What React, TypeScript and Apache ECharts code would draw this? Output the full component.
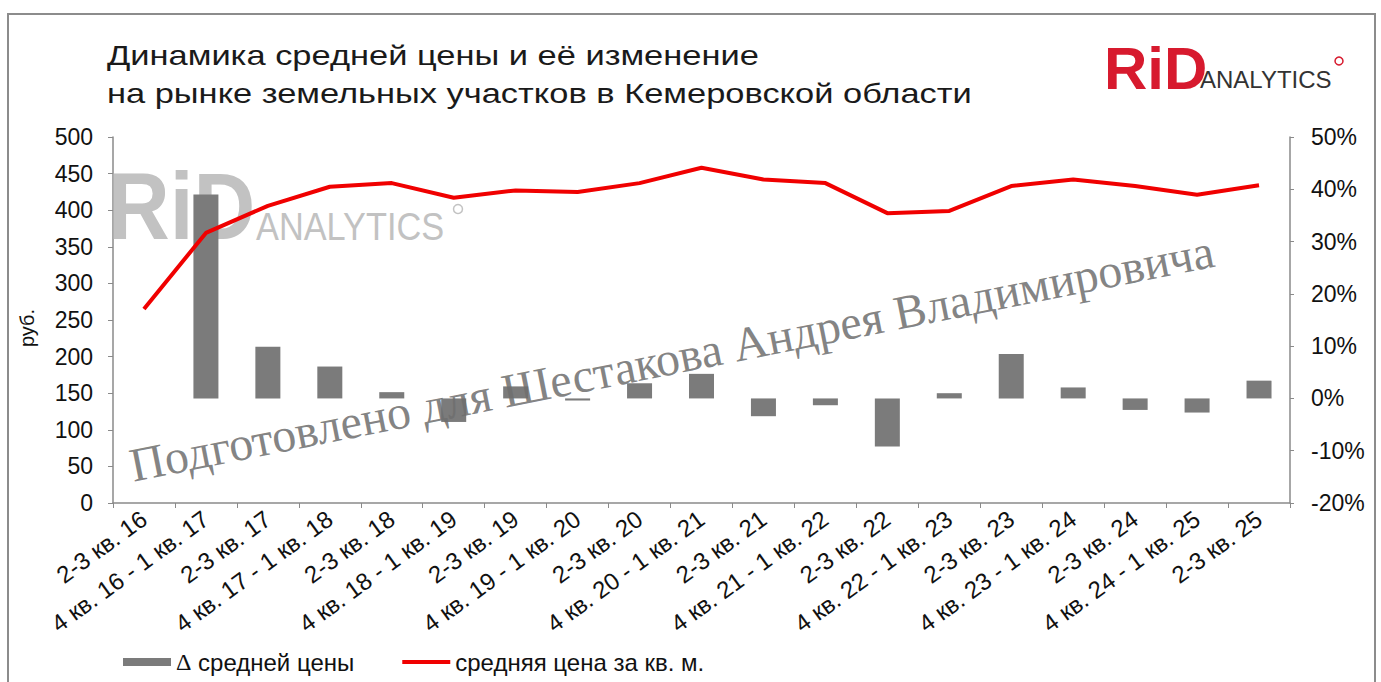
import React, { useEffect, useRef } from "react";
import * as echarts from "echarts";

const categories = [
  "2-3 кв. 16", "4 кв. 16 - 1 кв. 17", "2-3 кв. 17", "4 кв. 17 - 1 кв. 18", "2-3 кв. 18",
  "4 кв. 18 - 1 кв. 19", "2-3 кв. 19", "4 кв. 19 - 1 кв. 20", "2-3 кв. 20", "4 кв. 20 - 1 кв. 21",
  "2-3 кв. 21", "4 кв. 21 - 1 кв. 22", "2-3 кв. 22", "4 кв. 22 - 1 кв. 23", "2-3 кв. 23",
  "4 кв. 23 - 1 кв. 24", "2-3 кв. 24", "4 кв. 24 - 1 кв. 25", "2-3 кв. 25",
];
const avgPrice = [265, 369, 406, 432, 437, 417, 427, 425, 437, 458, 442, 437, 396, 399, 433, 442, 433, 421, 434];
const priceChange = [null, 39, 9.9, 6.1, 1.2, -4.5, 2.3, -0.4, 2.9, 4.7, -3.4, -1.3, -9.2, 1.0, 8.5, 2.1, -2.2, -2.7, 3.4];
const leftTicks = { min: 0, max: 500, interval: 50 };
const rightTicks = { min: -20, max: 50, interval: 10 };
const titleLines = ["Динамика средней цены и её изменение", "на рынке земельных участков в Кемеровской области"];
const barName = "Δ средней цены";
const lineName = "средняя цена за кв. м.";
const watermark = "Подготовлено для Шестакова Андрея Владимировича";

const FONT = "'Liberation Sans', Arial, sans-serif";

export default function App() {
  const ref = useRef<HTMLDivElement>(null);
  useEffect(() => {
    if (!ref.current) return;
    const chart = echarts.init(ref.current, null, { renderer: "svg" });
    const axisColor = "#8a8a8a";
    chart.setOption({
      animation: false,
      backgroundColor: "#ffffff",
      textStyle: { fontFamily: FONT },
      grid: { left: 113, right: 91, top: 137, bottom: 179, containLabel: false },
      legend: {
        left: 118,
        top: 645,
        itemWidth: 48,
        itemHeight: 8,
        itemGap: 48,
        symbolKeepAspect: true,
        textStyle: {
          fontFamily: FONT,
          fontSize: 24,
          color: "#111",
          rich: { s: { fontFamily: "'Liberation Serif', serif", fontSize: 24, color: "#111" } },
        },
        formatter: (n: string) => (n.startsWith("Δ") ? "{s|Δ}" + n.slice(1) : n),
        data: [
          { name: barName, icon: "rect" },
          { name: lineName, icon: "path://M0,0L56,0L56,4.6L0,4.6Z", itemStyle: { color: "#f00000" } },
        ],
      },
      xAxis: {
        type: "category",
        data: categories,
        boundaryGap: true,
        axisLine: { lineStyle: { color: axisColor, width: 1.5 } },
        axisTick: { show: true, length: 5, lineStyle: { color: axisColor } },
        axisLabel: {
          interval: 0,
          rotate: 36,
          fontSize: 24,
          color: "#111",
          fontFamily: FONT,
          margin: 13,
        },
      },
      yAxis: [
        {
          type: "value",
          min: leftTicks.min,
          max: leftTicks.max,
          interval: leftTicks.interval,
          name: "руб.",
          nameLocation: "middle",
          nameGap: 76,
          nameRotate: 90,
          nameTextStyle: { fontSize: 20, color: "#111", fontFamily: FONT, padding: [0, 16, 0, 0] },
          splitLine: { show: false },
          axisLine: { show: true, lineStyle: { color: axisColor, width: 1.5 } },
          axisTick: { show: true, length: 5, lineStyle: { color: axisColor } },
          axisLabel: { fontSize: 23, color: "#111", margin: 20, fontFamily: FONT },
        },
        {
          type: "value",
          min: rightTicks.min,
          max: rightTicks.max,
          interval: rightTicks.interval,
          position: "right",
          splitLine: { show: false },
          axisLine: { show: true, lineStyle: { color: axisColor, width: 1.5 } },
          axisTick: { show: true, length: 4, lineStyle: { color: axisColor } },
          axisLabel: { fontSize: 23, color: "#111", margin: 21, fontFamily: FONT, formatter: "{value}%" },
        },
      ],
      series: [
        {
          name: barName,
          type: "bar",
          yAxisIndex: 1,
          data: priceChange,
          barWidth: 25,
          itemStyle: { color: "#7b7b7b" },
          z: 2,
        },
        {
          name: lineName,
          type: "line",
          yAxisIndex: 0,
          data: avgPrice,
          symbol: "none",
          lineStyle: { color: "#f00000", width: 4 },
          itemStyle: { color: "#f00000" },
          z: 3,
        },
      ],
      graphic: [
        {
          type: "rect",
          shape: { x: 8, y: 14, width: 1367, height: 690 },
          style: { fill: "none", stroke: "#8c8c8c", lineWidth: 2 },
          z: 0,
        },
        {
          type: "text",
          x: 107,
          y: 37,
          scaleX: 1.23,
          style: {
            text: titleLines.join("\n"),
            fontSize: 28,
            lineHeight: 38,
            fontFamily: FONT,
            fill: "#1a1a1a",
          },
        },
        {
          type: "text",
          x: 1104,
          y: 38,
          style: { text: "RiD", fontSize: 60, fontWeight: "bold", fontFamily: FONT, fill: "#d71a2e" },
        },
        {
          type: "text",
          x: 1200,
          y: 67,
          style: { text: "ANALYTICS", fontSize: 24, fontFamily: FONT, fill: "#333333" },
        },
        {
          type: "circle",
          shape: { cx: 1339, cy: 61, r: 4 },
          style: { fill: "none", stroke: "#d71a2e", lineWidth: 1.5 },
        },
        {
          type: "text",
          x: 108,
          y: 158,
          scaleX: 0.9,
          z: 1,
          style: { text: "RiD", fontSize: 95, fontWeight: "bold", fontFamily: FONT, fill: "#c2c2c2" },
        },
        {
          type: "text",
          x: 256,
          y: 207,
          scaleX: 0.88,
          z: 1,
          style: { text: "ANALYTICS", fontSize: 39, fontFamily: FONT, fill: "#c2c2c2" },
        },
        {
          type: "circle",
          z: 1,
          shape: { cx: 458, cy: 209, r: 4.5 },
          style: { fill: "none", stroke: "#c2c2c2", lineWidth: 1.5 },
        },
        {
          type: "text",
          x: 135,
          y: 489,
          rotation: 0.196,
          z: 50,
          style: {
            text: watermark,
            fontSize: 48,
            fontFamily: "'Liberation Serif', 'Times New Roman', serif",
            fill: "rgba(110,110,110,0.85)",
            textVerticalAlign: "bottom",
          },
        },
      ],
    });
    return () => chart.dispose();
  }, []);
  return (
    <div
      ref={ref}
      style={{ position: "fixed", left: 0, top: 0, width: 1381, height: 682, background: "#fff" }}
    />
  );
}
